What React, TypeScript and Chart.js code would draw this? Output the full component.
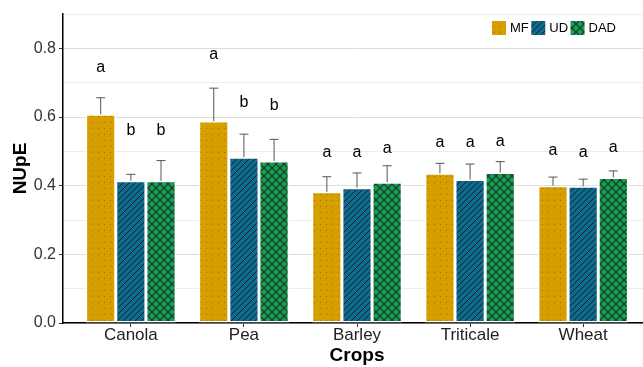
import React, { useEffect, useRef } from "react";
import { Chart, registerables } from "chart.js";

Chart.register(...registerables);

const categories = ["Canola", "Pea", "Barley", "Triticale", "Wheat"];
const seriesNames = ["MF", "UD", "DAD"];
const mfValues = [0.608, 0.588, 0.382, 0.436, 0.4];
const udValues = [0.414, 0.483, 0.394, 0.418, 0.398];
const dadValues = [0.414, 0.472, 0.41, 0.438, 0.424];
const mfErrors = [0.048, 0.096, 0.044, 0.029, 0.025];
const udErrors = [0.019, 0.067, 0.043, 0.045, 0.021];
const dadErrors = [0.059, 0.063, 0.048, 0.032, 0.019];
const mfLetters = ["a", "a", "a", "a", "a"];
const udLetters = ["b", "b", "a", "a", "a"];
const dadLetters = ["b", "b", "a", "a", "a"];
const mfLetterHeights = [0.745, 0.783, 0.495, 0.524, 0.503];
const udLetterHeights = [0.561, 0.643, 0.495, 0.524, 0.497];
const dadLetterHeights = [0.561, 0.634, 0.509, 0.529, 0.512];
const yTicks = [0, 0.2, 0.4, 0.6, 0.8];

const FONT = "'Liberation Sans', Arial, sans-serif";

function makePattern(bg: string, kind: string): CanvasPattern | string {
  const s = kind === "cross" ? 8 : 6;
  const c = document.createElement("canvas");
  c.width = s;
  c.height = s;
  const g = c.getContext("2d");
  if (!g) return bg;
  g.fillStyle = bg;
  g.fillRect(0, 0, s, s);
  if (kind === "dots") {
    g.fillStyle = "rgba(90,60,0,0.45)";
    g.fillRect(2, 2, 1, 1);
  } else if (kind === "stripes") {
    g.strokeStyle = "rgba(20,25,30,0.85)";
    g.lineWidth = 1;
    g.beginPath();
    g.moveTo(-1, s + 1);
    g.lineTo(s + 1, -1);
    g.moveTo(-1, 1);
    g.lineTo(1, -1);
    g.moveTo(s - 1, s + 1);
    g.lineTo(s + 1, s - 1);
    g.stroke();
  } else {
    g.strokeStyle = "rgba(30,30,30,0.85)";
    g.lineWidth = 1.2;
    g.beginPath();
    g.moveTo(0, 0);
    g.lineTo(s, s);
    g.moveTo(0, s);
    g.lineTo(s, 0);
    g.stroke();
  }
  const p = g.createPattern(c, "repeat");
  return p || bg;
}

export default function App() {
  const ref = useRef<HTMLCanvasElement | null>(null);

  useEffect(() => {
    document.body.style.margin = "0";
    document.documentElement.style.overflow = "hidden";
    const canvas = ref.current;
    if (!canvas) return;

    const values = [mfValues, udValues, dadValues];
    const errors = [mfErrors, udErrors, dadErrors];
    const letters = [mfLetters, udLetters, dadLetters];
    const letterHeights = [mfLetterHeights, udLetterHeights, dadLetterHeights];
    const fills = [
      makePattern("#D59F00", "dots"),
      makePattern("#0E6A8C", "stripes"),
      makePattern("#13A052", "cross"),
    ];

    const overlay = {
      id: "overlay",
      afterDatasetsDraw(chart: any) {
        const ctx = chart.ctx;
        const yScale = chart.scales.y;
        ctx.save();
        values.forEach((vals, i) => {
          const meta = chart.getDatasetMeta(i);
          meta.data.forEach((bar: any, j: number) => {
            const x = bar.x;
            const yTop = yScale.getPixelForValue(vals[j]);
            const yErr = yScale.getPixelForValue(vals[j] + errors[i][j]);
            ctx.strokeStyle = "#555";
            ctx.lineWidth = 1;
            ctx.beginPath();
            ctx.moveTo(x, yTop);
            ctx.lineTo(x, yErr);
            ctx.moveTo(x - 4.5, yErr);
            ctx.lineTo(x + 4.5, yErr);
            ctx.stroke();
            ctx.fillStyle = "#000";
            ctx.font = `16px ${FONT}`;
            ctx.textAlign = "center";
            ctx.textBaseline = "middle";
            ctx.fillText(letters[i][j], x, yScale.getPixelForValue(letterHeights[i][j]));
          });
        });
        // legend
        let lx = 492;
        const ly = 21;
        ctx.font = `13px ${FONT}`;
        ctx.textAlign = "left";
        ctx.textBaseline = "middle";
        seriesNames.forEach((name, i) => {
          ctx.fillStyle = fills[i] as any;
          ctx.fillRect(lx, ly, 14, 14);
          ctx.fillStyle = "#000";
          ctx.fillText(name, lx + 18, ly + 7.5);
          lx += 18 + ctx.measureText(name).width + 2.5;
        });
        ctx.restore();
      },
    };

    const chart = new Chart(canvas, {
      type: "bar",
      data: {
        datasets: values.map((vals, i) => ({
          label: seriesNames[i],
          data: vals.map((v, j) => ({ x: j + 1, y: v })),
          backgroundColor: fills[i] as any,
          borderColor: "#ffffff",
          borderWidth: 1.5,
          borderSkipped: false,
          categoryPercentage: 0.8,
          barPercentage: 1.0,
        })),
      },
      options: {
        animation: false,
        responsive: false,
        events: [],
        layout: { padding: { top: 14, right: 0, bottom: 0, left: 0 } },
        plugins: { legend: { display: false }, tooltip: { enabled: false } },
        scales: {
          x: {
            type: "linear",
            offset: false,
            min: 0.4,
            max: 5.6,
            afterBuildTicks: (scale: any) => {
              scale.ticks = categories.map((_, i) => ({ value: i + 1 }));
            },
            afterFit: (scale: any) => {
              scale.height = 44;
            },
            grid: { offset: false, drawOnChartArea: false, drawTicks: true, tickLength: 4, tickColor: "#333" },
            border: { display: true, color: "#000", width: 1.5 },
            ticks: {
              autoSkip: false,
              maxRotation: 0,
              padding: -2,
              color: "#222",
              font: { family: FONT, size: 17 },
              callback: (v: any) => categories[Math.round(Number(v)) - 1] ?? "",
            },
            title: {
              display: true,
              text: "Crops",
              color: "#000",
              font: { family: FONT, size: 19, weight: "bold" },
              padding: { top: 0, bottom: 0 },
            },
          },
          y: {
            type: "linear",
            min: 0,
            max: 0.9,
            afterBuildTicks: (scale: any) => {
              const t: any[] = [];
              for (let k = 0; k <= 9; k++) t.push({ value: k / 10 });
              scale.ticks = t;
            },
            afterFit: (scale: any) => {
              scale.width = 63;
            },
            grid: {
              color: (c: any) => {
                const v = Math.round((c.tick?.value ?? 0) * 10);
                return v % 2 === 0 ? "#dedede" : "#ececec";
              },
              tickColor: (c: any) => {
                const v = Math.round((c.tick?.value ?? 0) * 10);
                return yTicks.some((t) => Math.round(t * 10) === v) ? "#333" : "rgba(0,0,0,0)";
              },
              tickLength: 4,
              lineWidth: 1,
            },
            border: { display: true, color: "#000", width: 1.5 },
            ticks: {
              padding: 3,
              color: "#333",
              font: { family: FONT, size: 16 },
              callback: (v: any) => {
                const n = Number(v);
                return yTicks.some((t) => Math.abs(t - n) < 1e-6) ? n.toFixed(1) : "";
              },
            },
            title: {
              display: true,
              text: "NUpE",
              color: "#000",
              font: { family: FONT, size: 19, weight: "bold" },
              padding: { top: 9, bottom: 0 },
            },
          },
        },
      } as any,
      plugins: [overlay],
    });

    return () => {
      chart.destroy();
    };
  }, []);

  return (
    <div style={{ width: 643, height: 367, overflow: "hidden", position: "relative" }}>
      <canvas ref={ref} width={651} height={367} style={{ display: "block", width: 651, height: 367 }} />
    </div>
  );
}
